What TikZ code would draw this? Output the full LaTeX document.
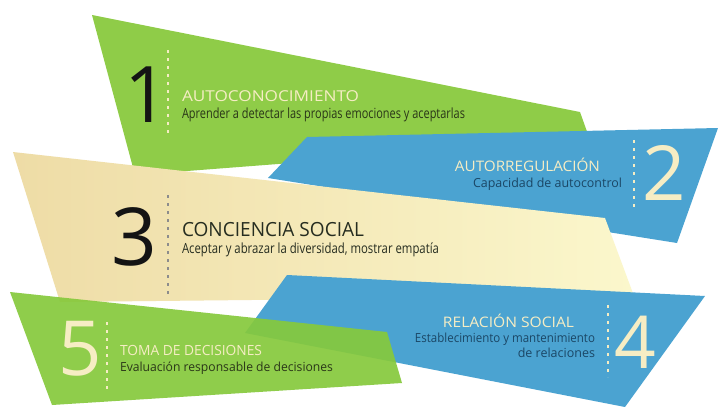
\documentclass[tikz,border=0pt]{standalone}
\usepackage{fontspec}
\setmainfont{Open Sans}
\usepackage{graphicx}
\newcommand{\fitw}[2]{\resizebox{#1}{\height}{#2}}
\definecolor{gr}{HTML}{8FCC48}
\definecolor{grB}{HTML}{86C93C}
\definecolor{bl}{HTML}{4BA3D1}
\definecolor{beigeL}{HTML}{EEDCA6}
\definecolor{beigeR}{HTML}{FBF7CC}
\definecolor{cream}{HTML}{F6EDC4}
\definecolor{dkgreen}{HTML}{2A3618}
\definecolor{dkblue}{HTML}{1B4766}
\definecolor{dkgray}{HTML}{262D20}
\tikzset{
  txt/.style={inner sep=0pt, outer sep=0pt},
  digit/.style={inner sep=0pt, anchor=base, font=\fontsize{76}{76}\selectfont},
  sepline/.style={line width=1.5pt, dash pattern=on 3pt off 5pt},
}
\begin{document}
\begin{tikzpicture}[x=1pt,y=-1pt]
\useasboundingbox (0,0) rectangle (718,407);
\fill[white] (0,0) rectangle (718,407);
% shapes
\fill[gr] (92,15) -- (580,112) -- (590,140) -- (135,175) -- cycle;
\fill[bl] (307,137) -- (718,128) -- (677,243) -- (268,178) -- cycle;
\shade[left color=beigeL, right color=beigeR] (13,152) -- (605,218) -- (634,296) -- (60,302) -- cycle;
\fill[bl] (287,275) -- (705,296) -- (625,407) -- (245,333) -- cycle;
\fill[grB, opacity=0.92] (10,292) -- (387,332) -- (402,383) -- (52,405) -- cycle;

% 1
\node[digit, text=black!92, font=\fontsize{78}{78}\selectfont] (n1) at (147,122) {1};
\coordinate (d1a) at (168,50); \coordinate (d1b) at (168,135);
\draw[sepline, cream] (d1a) -- (d1b);
\node[txt, anchor=base west, text=cream, font=\fontsize{15}{15}\selectfont] (h1) at (182,101) {\fitw{177pt}{AUTOCONOCIMIENTO}};
\node[txt, anchor=base west, text=dkgreen, font=\fontsize{14}{14}\selectfont] (s1) at (182,118) {\fitw{283pt}{Aprender a detectar las propias emociones y aceptarlas}};

% 2
\node[digit, text=cream] (n2) at (664,200) {2};
\coordinate (d2a) at (634,140); \coordinate (d2b) at (634,210);
\draw[sepline, cream] (d2a) -- (d2b);
\node[txt, anchor=base east, text=cream, font=\fontsize{14.5}{14.5}\selectfont] (h2) at (600,171) {\fitw{145pt}{AUTORREGULACIÓN}};
\node[txt, anchor=base east, text=dkblue, font=\fontsize{12.5}{12.5}\selectfont] (s2) at (622,187) {\fitw{149pt}{Capacidad de autocontrol}};

% 3
\node[digit, text=black!92, font=\fontsize{80}{80}\selectfont] (n3) at (134,265) {3};
\coordinate (d3a) at (168,195); \coordinate (d3b) at (168,296);
\draw[sepline, black!45] (d3a) -- (d3b);
\node[txt, anchor=base west, text=dkgray, font=\fontsize{19.5}{19.5}\selectfont] (h3) at (182,236) {\fitw{182pt}{CONCIENCIA SOCIAL}};
\node[txt, anchor=base west, text=dkgray, font=\fontsize{14}{14}\selectfont] (s3) at (182,253) {\fitw{257pt}{Aceptar y abrazar la diversidad, mostrar empatía}};

% 5
\node[digit, text=cream] (n5) at (80,375) {5};
\coordinate (d5a) at (107,322); \coordinate (d5b) at (107,392);
\draw[sepline, cream] (d5a) -- (d5b);
\node[txt, anchor=base west, text=cream, font=\fontsize{14}{14}\selectfont] (h5) at (120,355) {\fitw{142pt}{TOMA DE DECISIONES}};
\node[txt, anchor=base west, text=dkgreen, font=\fontsize{12.5}{12.5}\selectfont] (s5) at (120,371) {\fitw{213pt}{Evaluación responsable de decisiones}};

% 4
\node[digit, text=cream, font=\fontsize{73}{73}\selectfont] (n4) at (635,368) {4};
\coordinate (d4a) at (608,305); \coordinate (d4b) at (608,377);
\draw[sepline, cream] (d4a) -- (d4b);
\node[txt, anchor=base east, text=cream, font=\fontsize{14.5}{14.5}\selectfont] (h4) at (574,327) {\fitw{131pt}{RELACIÓN SOCIAL}};
\node[txt, anchor=base east, text=dkblue, font=\fontsize{12.5}{12.5}\selectfont] (s4a) at (595,342) {\fitw{180pt}{Establecimiento y mantenimiento}};
\node[txt, anchor=base east, text=dkblue, font=\fontsize{12.5}{12.5}\selectfont] (s4b) at (595,357) {de relaciones};
\end{tikzpicture}
\end{document}
